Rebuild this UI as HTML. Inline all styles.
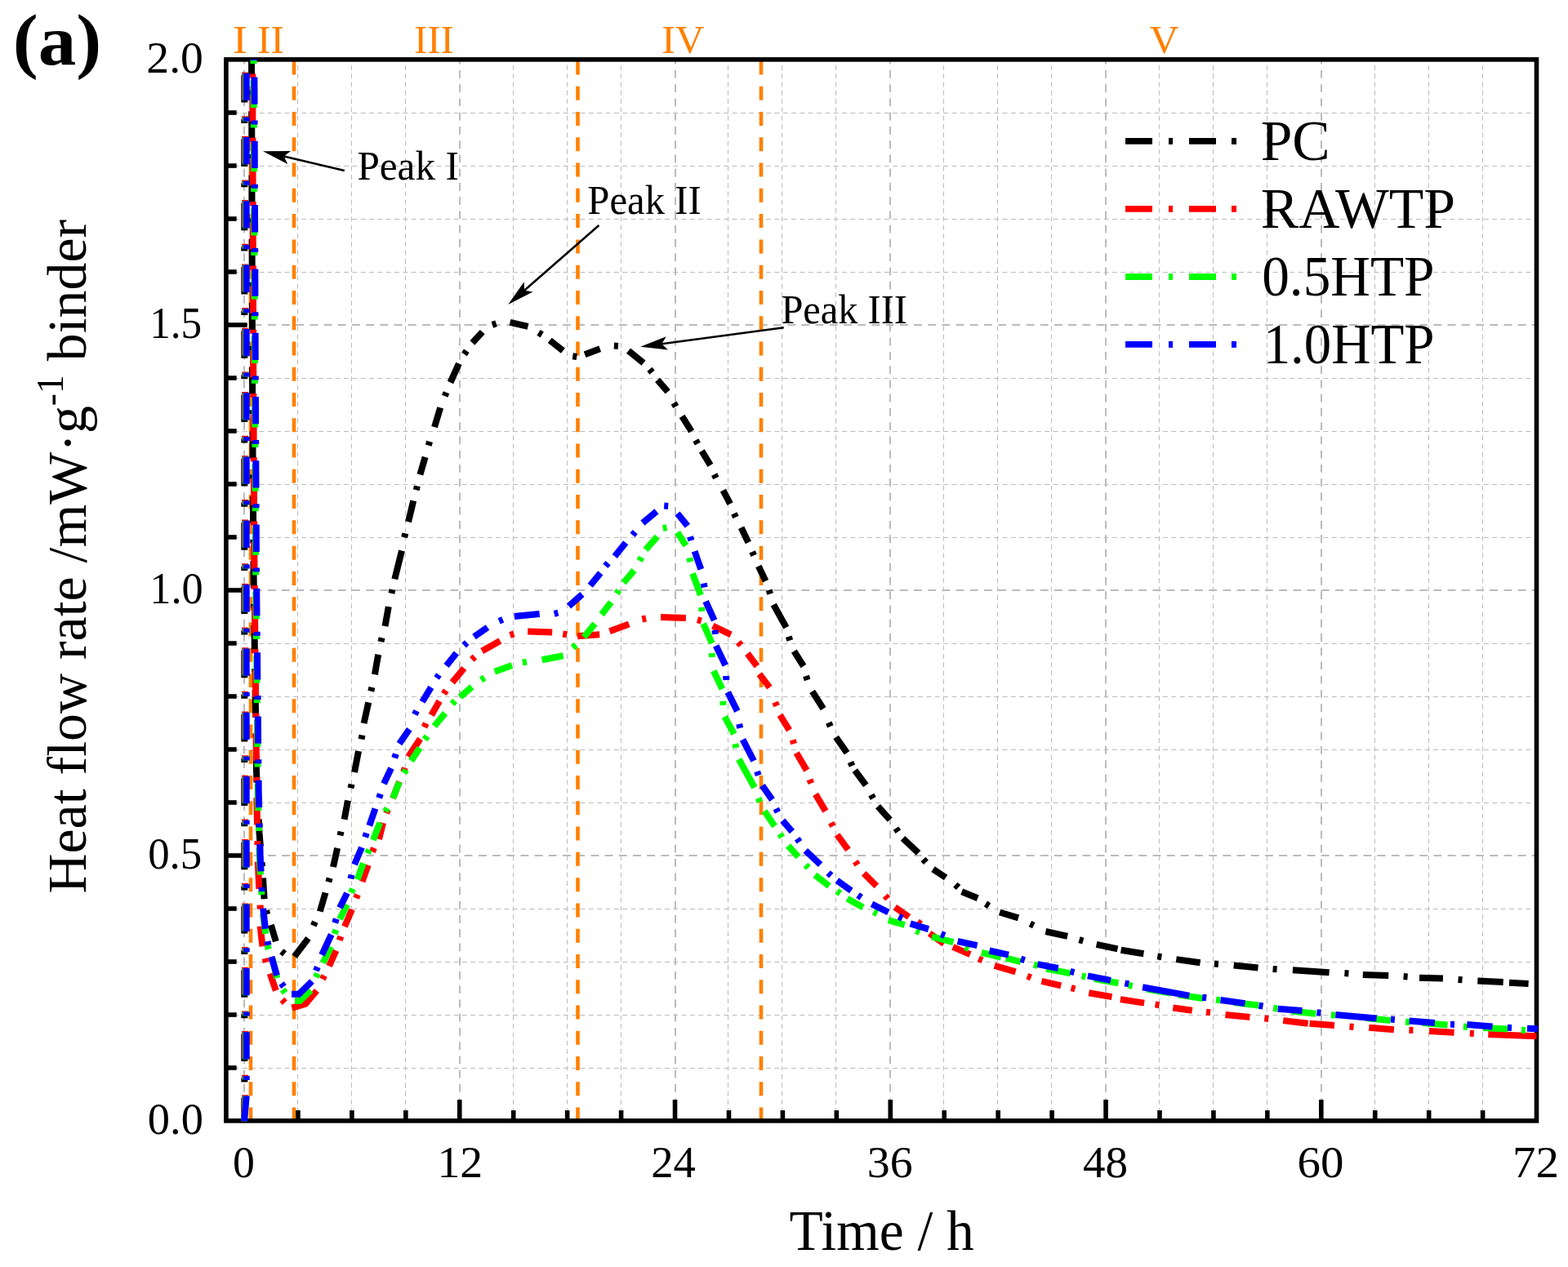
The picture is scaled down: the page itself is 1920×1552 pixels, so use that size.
<!DOCTYPE html><html><head><meta charset="utf-8"><title>Heat flow rate</title>
<style>html,body{margin:0;padding:0;background:#fff;overflow:hidden;}svg{display:block;}text{font-family:'Liberation Serif','Times New Roman',serif;}</style></head><body>
<svg width="1920" height="1552" viewBox="0 0 1920 1552">
<rect width="1920" height="1552" fill="#fff"/>
<defs><clipPath id="pc"><rect x="272.9" y="72.5" width="1612.6" height="1304.0"/></clipPath></defs>
<g id="grid"><line x1="299.00" y1="72" x2="299.00" y2="1370" stroke="#bbbbbb" stroke-width="2" stroke-dasharray="9.9 7.35" stroke-dashoffset="3.3"/><line x1="364.50" y1="80" x2="364.50" y2="1370" stroke="#bbbbbb" stroke-width="1" stroke-dasharray="5.9 4.4"/><line x1="430.50" y1="80" x2="430.50" y2="1370" stroke="#bbbbbb" stroke-width="1" stroke-dasharray="5.9 4.4"/><line x1="496.50" y1="80" x2="496.50" y2="1370" stroke="#bbbbbb" stroke-width="1" stroke-dasharray="5.9 4.4"/><line x1="563.00" y1="72" x2="563.00" y2="1370" stroke="#bbbbbb" stroke-width="2" stroke-dasharray="9.9 7.35" stroke-dashoffset="3.3"/><line x1="628.50" y1="80" x2="628.50" y2="1370" stroke="#bbbbbb" stroke-width="1" stroke-dasharray="5.9 4.4"/><line x1="694.50" y1="80" x2="694.50" y2="1370" stroke="#bbbbbb" stroke-width="1" stroke-dasharray="5.9 4.4"/><line x1="760.50" y1="80" x2="760.50" y2="1370" stroke="#bbbbbb" stroke-width="1" stroke-dasharray="5.9 4.4"/><line x1="827.00" y1="72" x2="827.00" y2="1370" stroke="#bbbbbb" stroke-width="2" stroke-dasharray="9.9 7.35" stroke-dashoffset="3.3"/><line x1="891.50" y1="80" x2="891.50" y2="1370" stroke="#bbbbbb" stroke-width="1" stroke-dasharray="5.9 4.4"/><line x1="957.50" y1="80" x2="957.50" y2="1370" stroke="#bbbbbb" stroke-width="1" stroke-dasharray="5.9 4.4"/><line x1="1023.50" y1="80" x2="1023.50" y2="1370" stroke="#bbbbbb" stroke-width="1" stroke-dasharray="5.9 4.4"/><line x1="1090.00" y1="72" x2="1090.00" y2="1370" stroke="#bbbbbb" stroke-width="2" stroke-dasharray="9.9 7.35" stroke-dashoffset="3.3"/><line x1="1155.50" y1="80" x2="1155.50" y2="1370" stroke="#bbbbbb" stroke-width="1" stroke-dasharray="5.9 4.4"/><line x1="1221.50" y1="80" x2="1221.50" y2="1370" stroke="#bbbbbb" stroke-width="1" stroke-dasharray="5.9 4.4"/><line x1="1287.50" y1="80" x2="1287.50" y2="1370" stroke="#bbbbbb" stroke-width="1" stroke-dasharray="5.9 4.4"/><line x1="1354.00" y1="72" x2="1354.00" y2="1370" stroke="#bbbbbb" stroke-width="2" stroke-dasharray="9.9 7.35" stroke-dashoffset="3.3"/><line x1="1419.50" y1="80" x2="1419.50" y2="1370" stroke="#bbbbbb" stroke-width="1" stroke-dasharray="5.9 4.4"/><line x1="1485.50" y1="80" x2="1485.50" y2="1370" stroke="#bbbbbb" stroke-width="1" stroke-dasharray="5.9 4.4"/><line x1="1551.50" y1="80" x2="1551.50" y2="1370" stroke="#bbbbbb" stroke-width="1" stroke-dasharray="5.9 4.4"/><line x1="1618.00" y1="72" x2="1618.00" y2="1370" stroke="#bbbbbb" stroke-width="2" stroke-dasharray="9.9 7.35" stroke-dashoffset="3.3"/><line x1="1683.50" y1="80" x2="1683.50" y2="1370" stroke="#bbbbbb" stroke-width="1" stroke-dasharray="5.9 4.4"/><line x1="1749.50" y1="80" x2="1749.50" y2="1370" stroke="#bbbbbb" stroke-width="1" stroke-dasharray="5.9 4.4"/><line x1="1815.50" y1="80" x2="1815.50" y2="1370" stroke="#bbbbbb" stroke-width="1" stroke-dasharray="5.9 4.4"/><line x1="286.6" y1="1308.50" x2="1879" y2="1308.50" stroke="#bbbbbb" stroke-width="1" stroke-dasharray="5.9 4.44"/><line x1="286.6" y1="1243.50" x2="1879" y2="1243.50" stroke="#bbbbbb" stroke-width="1" stroke-dasharray="5.9 4.44"/><line x1="286.6" y1="1178.50" x2="1879" y2="1178.50" stroke="#bbbbbb" stroke-width="1" stroke-dasharray="5.9 4.44"/><line x1="286.6" y1="1113.50" x2="1879" y2="1113.50" stroke="#bbbbbb" stroke-width="1" stroke-dasharray="5.9 4.44"/><line x1="276.2" y1="1048.00" x2="1879" y2="1048.00" stroke="#bbbbbb" stroke-width="2" stroke-dasharray="9.9 7.3"/><line x1="286.6" y1="983.50" x2="1879" y2="983.50" stroke="#bbbbbb" stroke-width="1" stroke-dasharray="5.9 4.44"/><line x1="286.6" y1="918.50" x2="1879" y2="918.50" stroke="#bbbbbb" stroke-width="1" stroke-dasharray="5.9 4.44"/><line x1="286.6" y1="853.50" x2="1879" y2="853.50" stroke="#bbbbbb" stroke-width="1" stroke-dasharray="5.9 4.44"/><line x1="286.6" y1="788.50" x2="1879" y2="788.50" stroke="#bbbbbb" stroke-width="1" stroke-dasharray="5.9 4.44"/><line x1="276.2" y1="723.00" x2="1879" y2="723.00" stroke="#bbbbbb" stroke-width="2" stroke-dasharray="9.9 7.3"/><line x1="286.6" y1="658.50" x2="1879" y2="658.50" stroke="#bbbbbb" stroke-width="1" stroke-dasharray="5.9 4.44"/><line x1="286.6" y1="593.50" x2="1879" y2="593.50" stroke="#bbbbbb" stroke-width="1" stroke-dasharray="5.9 4.44"/><line x1="286.6" y1="528.50" x2="1879" y2="528.50" stroke="#bbbbbb" stroke-width="1" stroke-dasharray="5.9 4.44"/><line x1="286.6" y1="463.50" x2="1879" y2="463.50" stroke="#bbbbbb" stroke-width="1" stroke-dasharray="5.9 4.44"/><line x1="276.2" y1="398.00" x2="1879" y2="398.00" stroke="#bbbbbb" stroke-width="2" stroke-dasharray="9.9 7.3"/><line x1="286.6" y1="333.50" x2="1879" y2="333.50" stroke="#bbbbbb" stroke-width="1" stroke-dasharray="5.9 4.44"/><line x1="286.6" y1="268.50" x2="1879" y2="268.50" stroke="#bbbbbb" stroke-width="1" stroke-dasharray="5.9 4.44"/><line x1="286.6" y1="203.50" x2="1879" y2="203.50" stroke="#bbbbbb" stroke-width="1" stroke-dasharray="5.9 4.44"/><line x1="286.6" y1="138.50" x2="1879" y2="138.50" stroke="#bbbbbb" stroke-width="1" stroke-dasharray="5.9 4.44"/></g>
<g id="regions"><line x1="307.0" y1="74.5" x2="307.0" y2="1373" stroke="#ff8000" stroke-width="4.6" stroke-dasharray="17 14.27"/><line x1="360.0" y1="74.5" x2="360.0" y2="1373" stroke="#ff8000" stroke-width="4.6" stroke-dasharray="17 14.27"/><line x1="707.5" y1="74.5" x2="707.5" y2="1373" stroke="#ff8000" stroke-width="4.6" stroke-dasharray="17 14.27"/><line x1="932.0" y1="74.5" x2="932.0" y2="1373" stroke="#ff8000" stroke-width="4.6" stroke-dasharray="17 14.27"/></g>
<g id="frame"><rect x="276.90" y="72.90" width="1604.60" height="1300.00" fill="none" stroke="#000" stroke-width="5.6"/><line x1="299.00" y1="1372.90" x2="299.00" y2="1347.10" stroke="#000" stroke-width="5.6"/><line x1="364.94" y1="1372.90" x2="364.94" y2="1360.10" stroke="#000" stroke-width="5.6"/><line x1="430.88" y1="1372.90" x2="430.88" y2="1360.10" stroke="#000" stroke-width="5.6"/><line x1="496.82" y1="1372.90" x2="496.82" y2="1360.10" stroke="#000" stroke-width="5.6"/><line x1="562.76" y1="1372.90" x2="562.76" y2="1347.10" stroke="#000" stroke-width="5.6"/><line x1="628.70" y1="1372.90" x2="628.70" y2="1360.10" stroke="#000" stroke-width="5.6"/><line x1="694.64" y1="1372.90" x2="694.64" y2="1360.10" stroke="#000" stroke-width="5.6"/><line x1="760.58" y1="1372.90" x2="760.58" y2="1360.10" stroke="#000" stroke-width="5.6"/><line x1="826.52" y1="1372.90" x2="826.52" y2="1347.10" stroke="#000" stroke-width="5.6"/><line x1="892.46" y1="1372.90" x2="892.46" y2="1360.10" stroke="#000" stroke-width="5.6"/><line x1="958.40" y1="1372.90" x2="958.40" y2="1360.10" stroke="#000" stroke-width="5.6"/><line x1="1024.34" y1="1372.90" x2="1024.34" y2="1360.10" stroke="#000" stroke-width="5.6"/><line x1="1090.28" y1="1372.90" x2="1090.28" y2="1347.10" stroke="#000" stroke-width="5.6"/><line x1="1156.22" y1="1372.90" x2="1156.22" y2="1360.10" stroke="#000" stroke-width="5.6"/><line x1="1222.16" y1="1372.90" x2="1222.16" y2="1360.10" stroke="#000" stroke-width="5.6"/><line x1="1288.10" y1="1372.90" x2="1288.10" y2="1360.10" stroke="#000" stroke-width="5.6"/><line x1="1354.04" y1="1372.90" x2="1354.04" y2="1347.10" stroke="#000" stroke-width="5.6"/><line x1="1419.98" y1="1372.90" x2="1419.98" y2="1360.10" stroke="#000" stroke-width="5.6"/><line x1="1485.92" y1="1372.90" x2="1485.92" y2="1360.10" stroke="#000" stroke-width="5.6"/><line x1="1551.86" y1="1372.90" x2="1551.86" y2="1360.10" stroke="#000" stroke-width="5.6"/><line x1="1617.80" y1="1372.90" x2="1617.80" y2="1347.10" stroke="#000" stroke-width="5.6"/><line x1="1683.74" y1="1372.90" x2="1683.74" y2="1360.10" stroke="#000" stroke-width="5.6"/><line x1="1749.68" y1="1372.90" x2="1749.68" y2="1360.10" stroke="#000" stroke-width="5.6"/><line x1="1815.62" y1="1372.90" x2="1815.62" y2="1360.10" stroke="#000" stroke-width="5.6"/><line x1="276.90" y1="1308.00" x2="289.70" y2="1308.00" stroke="#000" stroke-width="5.6"/><line x1="276.90" y1="1243.00" x2="289.70" y2="1243.00" stroke="#000" stroke-width="5.6"/><line x1="276.90" y1="1178.00" x2="289.70" y2="1178.00" stroke="#000" stroke-width="5.6"/><line x1="276.90" y1="1113.00" x2="289.70" y2="1113.00" stroke="#000" stroke-width="5.6"/><line x1="276.90" y1="1048.00" x2="302.70" y2="1048.00" stroke="#000" stroke-width="5.6"/><line x1="276.90" y1="983.00" x2="289.70" y2="983.00" stroke="#000" stroke-width="5.6"/><line x1="276.90" y1="918.00" x2="289.70" y2="918.00" stroke="#000" stroke-width="5.6"/><line x1="276.90" y1="853.00" x2="289.70" y2="853.00" stroke="#000" stroke-width="5.6"/><line x1="276.90" y1="788.00" x2="289.70" y2="788.00" stroke="#000" stroke-width="5.6"/><line x1="276.90" y1="723.00" x2="302.70" y2="723.00" stroke="#000" stroke-width="5.6"/><line x1="276.90" y1="658.00" x2="289.70" y2="658.00" stroke="#000" stroke-width="5.6"/><line x1="276.90" y1="593.00" x2="289.70" y2="593.00" stroke="#000" stroke-width="5.6"/><line x1="276.90" y1="528.00" x2="289.70" y2="528.00" stroke="#000" stroke-width="5.6"/><line x1="276.90" y1="463.00" x2="289.70" y2="463.00" stroke="#000" stroke-width="5.6"/><line x1="276.90" y1="398.00" x2="302.70" y2="398.00" stroke="#000" stroke-width="5.6"/><line x1="276.90" y1="333.00" x2="289.70" y2="333.00" stroke="#000" stroke-width="5.6"/><line x1="276.90" y1="268.00" x2="289.70" y2="268.00" stroke="#000" stroke-width="5.6"/><line x1="276.90" y1="203.00" x2="289.70" y2="203.00" stroke="#000" stroke-width="5.6"/><line x1="276.90" y1="138.00" x2="289.70" y2="138.00" stroke="#000" stroke-width="5.6"/></g>
<g id="curves" clip-path="url(#pc)"><path d="M299.3,1345.1 L299.0,1373.5 M299.3,1320.5 L299.3,1325.5 M299.3,1266.8 L299.3,1300.1 M299.3,1242.2 L299.3,1247.2 M299.3,1188.5 L299.3,1221.8 M299.3,1163.9 L299.3,1168.9 M299.3,1110.2 L299.3,1143.5 M299.3,1085.6 L299.3,1090.6 M299.3,1031.9 L299.3,1065.2 M299.3,1007.3 L299.3,1012.3 M299.3,953.6 L299.3,986.9 M299.3,929.0 L299.3,934.0 M299.3,875.3 L299.3,908.6 M299.3,850.7 L299.3,855.7 M299.3,797.0 L299.3,830.3 M299.3,772.4 L299.3,777.4 M299.3,718.7 L299.3,752.0 M299.3,694.1 L299.3,699.1 M299.3,640.4 L299.3,673.7 M299.3,615.8 L299.3,620.8 M299.3,562.1 L299.3,595.4 M299.3,537.5 L299.3,542.5 M299.3,483.8 L299.3,517.1 M299.3,459.2 L299.3,464.2 M299.3,405.5 L299.3,438.8 M299.3,380.9 L299.3,385.9 M299.3,327.2 L299.3,360.5 M299.3,302.6 L299.3,307.6 M299.3,248.9 L299.3,282.2 M299.3,224.3 L299.3,229.3 M299.3,170.6 L299.3,203.9 M299.3,146.0 L299.3,151.0 M299.3,92.3 L299.3,125.6 M299.3,72.5 L299.3,72.7 M308.0,72.5 L308.1,91.2 M308.1,110.8 L308.1,115.8 M308.2,136.2 L308.3,169.5 M308.3,189.1 L308.3,194.1 M308.4,214.5 L308.5,247.8 M308.5,267.4 L308.5,272.4 M308.6,292.8 L308.7,326.1 M308.7,345.7 L308.7,350.7 M308.8,371.1 L308.9,404.4 M308.9,424.0 L308.9,429.0 M309.0,449.4 L309.0,460.0 L309.1,482.7 M309.3,502.3 L309.3,507.3 M309.4,528.6 L309.6,561.9 M309.8,581.5 L309.8,586.5 M309.9,607.9 L310.1,641.2 M310.3,660.8 L310.3,665.8 M310.4,687.1 L310.5,700.0 L310.8,720.4 M311.1,740.0 L311.1,745.0 M311.4,766.3 L311.9,799.6 M312.2,819.2 L312.3,824.2 M312.6,845.5 L313.1,878.8 M313.3,898.4 L313.4,903.4 M313.7,925.2 L314.0,945.0 L314.6,958.5 M315.5,978.1 L315.8,983.1 M316.7,1003.5 L317.5,1020.0 L318.9,1036.8 M320.5,1056.4 L320.9,1061.4 M322.0,1075.5 L323.6,1101.2 M326.0,1115.2 L327.2,1120.0 M331.8,1133.0 L337.8,1153.2 M344.7,1165.2 L348.5,1168.4 M360.5,1171.7 L377.5,1149.3 M383.8,1133.8 L385.8,1129.2 M391.8,1116.5 L398.5,1093.5 M402.3,1080.4 L403.7,1075.6 M408.0,1062.0 L413.1,1038.8 M416.4,1023.4 L417.6,1018.6 M421.6,1003.7 L426.0,980.5 M429.4,965.4 L430.6,960.6 M434.0,946.0 L439.0,920.0 M442.5,905.5 L443.5,900.5 M445.6,886.0 L451.2,860.4 M454.2,846.7 L455.4,841.9 M458.9,826.3 L463.2,801.8 M466.4,786.1 L467.6,781.3 M471.5,767.0 L475.8,743.1 M479.4,726.9 L480.4,722.1 M483.3,709.4 L492.0,674.5 M495.1,658.2 L496.3,653.4 M500.0,639.2 L506.2,613.4 M509.7,600.2 L510.9,595.4 M514.4,581.4 L520.6,559.8 M524.7,545.7 L526.1,540.9 M532.0,523.1 L539.2,499.4 M544.7,485.3 L546.5,480.7 M551.5,468.5 L561.9,445.4 M568.5,434.0 L571.3,429.8 M578.4,420.0 L590.7,406.6 M602.8,397.9 L607.6,396.3 M624.5,394.8 L646.5,399.9 M659.5,407.4 L663.7,410.0 M673.2,416.8 L689.4,429.6 M701.3,436.2 L706.3,437.0 M716.1,434.2 L734.7,427.3 M751.9,423.6 L756.9,424.0 M769.5,429.6 L788.0,444.7 M795.4,452.3 L798.6,456.1 M805.1,465.4 L817.7,479.9 M825.1,493.6 L827.7,498.0 M835.1,509.9 L846.7,528.3 M851.9,539.2 L854.3,543.6 M859.3,552.4 L869.9,569.8 M874.6,581.1 L876.8,585.5 M885.4,600.7 L894.1,617.2 M898.8,629.0 L901.0,633.6 M907.6,646.2 L916.3,664.5 M921.1,675.8 L923.1,680.4 M928.8,693.5 L937.5,711.8 M941.6,722.7 L943.2,727.5 M947.2,740.6 L962.7,768.6 M965.7,779.8 L967.3,784.6 M972.3,797.6 L983.9,816.0 M987.0,828.1 L988.6,832.9 M994.6,846.9 L1008.1,868.2 M1014.8,885.2 L1016.8,889.8 M1023.6,903.0 L1037.1,922.3 M1041.5,933.5 L1043.5,938.1 M1046.8,943.6 L1060.3,961.9 M1066.8,973.6 L1069.2,978.0 M1075.0,987.8 L1089.7,1004.1 M1097.0,1014.6 L1099.8,1018.8 M1105.5,1026.8 L1124.6,1044.8 M1130.5,1052.5 L1133.9,1056.3 M1142.5,1064.6 L1158.1,1075.0 M1169.8,1083.7 L1173.6,1087.1 M1177.7,1092.3 L1197.2,1100.3 M1206.9,1107.0 L1211.1,1109.6 M1224.1,1117.5 L1247.0,1124.4 M1261.4,1131.5 L1265.8,1133.7 M1280.4,1141.0 L1307.1,1146.9 M1321.5,1151.2 L1326.3,1152.6 M1342.6,1156.8 L1368.5,1162.3 M1372.6,1163.8 L1400.4,1168.2 M1417.3,1171.4 L1422.3,1172.2 M1440.3,1175.1 L1469.6,1179.2 M1486.9,1180.5 L1491.9,1180.9 M1510.7,1182.5 L1540.5,1185.5 M1558.6,1186.9 L1563.6,1187.3 M1582.9,1188.2 L1627.6,1191.2 M1646.4,1192.1 L1651.4,1192.5 M1668.8,1194.0 L1700.2,1195.1 M1718.6,1196.0 L1723.6,1196.4 M1738.0,1197.8 L1766.9,1198.5 M1785.5,1199.9 L1790.5,1200.3 M1809.3,1201.5 L1840.7,1203.1 M1848.0,1203.8 L1871.6,1205.0" fill="none" stroke="#000000" stroke-width="8.0" stroke-linecap="butt" stroke-linejoin="miter"/><path d="M300.1,1341.3 L300.1,1343.0 L299.0,1373.5 M300.1,1316.7 L300.1,1321.7 M300.1,1263.0 L300.1,1296.3 M300.1,1238.4 L300.1,1243.4 M300.1,1184.7 L300.1,1218.0 M300.1,1160.1 L300.1,1165.1 M300.1,1106.4 L300.1,1139.7 M300.1,1081.8 L300.1,1086.8 M300.1,1028.1 L300.1,1061.4 M300.1,1003.5 L300.1,1008.5 M300.1,949.8 L300.1,983.1 M300.1,925.2 L300.1,930.2 M300.1,871.5 L300.1,904.8 M300.1,846.9 L300.1,851.9 M300.1,793.2 L300.1,826.5 M300.1,768.6 L300.1,773.6 M300.1,714.9 L300.1,748.2 M300.1,690.3 L300.1,695.3 M300.1,636.6 L300.1,669.9 M300.1,612.0 L300.1,617.0 M300.1,558.3 L300.1,591.6 M300.1,533.7 L300.1,538.7 M300.1,480.0 L300.1,513.3 M300.1,455.4 L300.1,460.4 M300.1,401.7 L300.1,435.0 M300.1,377.1 L300.1,382.1 M300.1,323.4 L300.1,356.7 M300.1,298.8 L300.1,303.8 M300.1,245.1 L300.1,278.4 M300.1,220.5 L300.1,225.5 M300.1,166.8 L300.1,200.1 M300.1,142.2 L300.1,147.2 M300.1,88.5 L300.1,121.8 M309.3,90.5 L309.3,95.5 M309.3,115.9 L309.4,149.2 M309.5,168.8 L309.5,173.8 M309.5,194.2 L309.6,227.5 M309.7,247.1 L309.7,252.1 M309.7,272.5 L309.8,305.8 M309.9,325.4 L309.9,330.4 M309.9,350.8 L310.0,384.1 M310.1,403.7 L310.1,408.7 M310.1,429.1 L310.2,460.0 L310.2,462.4 M310.3,482.0 L310.3,487.0 M310.5,507.4 L310.6,540.7 M310.7,560.3 L310.8,565.3 M310.9,585.7 L311.1,619.0 M311.2,638.6 L311.2,643.6 M311.3,664.0 L311.5,697.3 M311.7,716.9 L311.7,721.9 M311.9,742.3 L312.3,775.6 M312.5,795.2 L312.5,800.2 M312.8,820.6 L313.1,853.9 M313.3,873.5 L313.4,878.5 M313.6,898.9 L313.9,932.2 M314.1,951.8 L314.2,956.8 M314.4,977.2 L315.0,1010.5 M315.3,1030.1 L315.4,1035.1 M315.8,1055.5 L317.3,1088.8 M318.6,1108.6 L318.8,1113.6 M318.7,1134.6 L321.4,1159.2 M324.5,1174.0 L325.9,1178.8 M330.7,1192.6 L337.8,1213.4 M345.4,1224.6 L348.8,1228.2 M357.4,1234.7 L374.0,1229.7 L387.9,1213.5 M394.9,1199.4 L397.1,1195.0 M403.0,1183.3 L411.5,1164.4 M415.7,1151.7 L417.3,1146.9 M422.0,1135.0 L431.0,1114.0 M436.1,1100.3 L437.9,1095.7 M443.5,1080.0 L450.7,1059.6 M456.0,1043.3 L458.0,1038.7 M464.0,1028.0 L469.0,1008.0 M473.1,996.3 L474.9,991.7 M481.0,978.0 L489.0,957.5 M494.2,945.4 L495.8,940.6 M500.0,927.0 L514.5,905.0 M519.5,890.7 L521.7,886.1 M528.2,876.0 L538.1,858.8 M543.4,849.9 L546.2,845.7 M553.8,835.9 L568.3,818.5 M577.8,807.9 L581.4,804.5 M590.2,797.5 L612.4,785.0 M624.5,778.0 L629.3,776.4 M646.2,773.4 L676.2,774.4 M689.2,776.5 L694.2,777.3 M707.1,779.2 L734.2,777.3 M746.5,773.2 L770.3,764.5 M786.3,758.5 L791.1,757.5 M809.0,756.1 L839.9,757.0 M854.0,759.2 L858.8,760.6 M872.8,766.7 L895.0,777.3 M904.1,786.6 L907.3,790.4 M915.3,800.5 L926.9,816.0 M929.8,825.7 L942.4,842.1 M949.2,860.1 L951.0,864.7 M955.0,875.9 L966.5,894.3 M970.7,906.4 L972.1,911.2 M975.2,922.3 L987.8,943.6 M991.5,954.9 L993.3,959.5 M998.6,972.9 L1010.9,993.6 M1017.7,1007.7 L1019.9,1012.1 M1025.0,1022.5 L1038.5,1040.9 M1047.3,1055.2 L1050.1,1059.4 M1057.8,1069.9 L1073.3,1085.3 M1083.9,1097.1 L1087.1,1100.9 M1095.8,1111.2 L1113.0,1123.2 M1123.5,1128.8 L1127.5,1132.0 M1138.2,1143.3 L1155.9,1155.9 M1166.8,1159.9 L1188.0,1169.1 M1198.3,1174.4 L1202.9,1176.4 M1217.8,1182.8 L1243.6,1190.3 M1257.9,1195.6 L1262.5,1197.4 M1275.4,1201.9 L1299.2,1207.3 M1311.6,1210.2 L1316.4,1211.4 M1333.3,1216.2 L1361.5,1221.1 M1371.9,1224.1 L1401.1,1228.6 M1414.5,1230.4 L1419.5,1231.2 M1436.3,1234.5 L1459.8,1237.8 M1477.0,1239.7 L1482.0,1240.3 M1500.5,1242.9 L1530.4,1245.9 M1548.3,1247.4 L1553.3,1248.0 M1571.2,1250.1 L1601.7,1253.7 M1603.5,1253.7 L1634.0,1256.1 M1652.5,1257.6 L1657.5,1258.0 M1676.3,1258.8 L1706.9,1261.3 M1725.4,1261.8 L1730.4,1262.0 M1750.0,1263.1 L1780.6,1264.8 M1799.8,1265.8 L1804.8,1266.0 M1822.3,1267.1 L1881.5,1269.2" fill="none" stroke="#ff0000" stroke-width="8.0" stroke-linecap="butt" stroke-linejoin="miter"/><path d="M300.9,1342.5 L300.9,1343.0 L299.0,1373.5 M300.9,1317.9 L300.9,1322.9 M300.9,1264.2 L300.9,1297.5 M300.9,1239.6 L300.9,1244.6 M300.9,1185.9 L300.9,1219.2 M300.9,1161.3 L300.9,1166.3 M300.9,1107.6 L300.9,1140.9 M300.9,1083.0 L300.9,1088.0 M300.9,1029.3 L300.9,1062.6 M300.9,1004.7 L300.9,1009.7 M300.9,951.0 L300.9,984.3 M300.9,926.4 L300.9,931.4 M300.9,872.7 L300.9,906.0 M300.9,848.1 L300.9,853.1 M300.9,794.4 L300.9,827.7 M300.9,769.8 L300.9,774.8 M300.9,716.1 L300.9,749.4 M300.9,691.5 L300.9,696.5 M300.9,637.8 L300.9,671.1 M300.9,613.2 L300.9,618.2 M300.9,559.5 L300.9,592.8 M300.9,534.9 L300.9,539.9 M300.9,481.2 L300.9,514.5 M300.9,456.6 L300.9,461.6 M300.9,402.9 L300.9,436.2 M300.9,378.3 L300.9,383.3 M300.9,324.6 L300.9,357.9 M300.9,300.0 L300.9,305.0 M300.9,246.3 L300.9,279.6 M300.9,221.7 L300.9,226.7 M300.9,168.0 L300.9,201.3 M300.9,143.4 L300.9,148.4 M300.9,89.7 L300.9,123.0 M310.5,73.2 L310.6,78.2 M310.6,98.6 L310.8,131.9 M310.8,151.5 L310.9,156.5 M310.9,176.9 L311.1,210.2 M311.1,229.8 L311.2,234.8 M311.2,255.2 L311.4,288.5 M311.4,308.1 L311.4,313.1 M311.5,333.5 L311.7,366.8 M311.7,386.4 L311.7,391.4 M311.8,411.8 L311.9,445.1 M312.0,464.7 L312.0,469.7 M312.2,490.1 L312.3,523.4 M312.4,543.0 L312.4,548.0 M312.5,568.4 L312.7,601.7 M312.8,621.3 L312.8,626.3 M312.9,646.7 L313.1,680.0 M313.2,699.6 L313.2,700.0 L313.2,704.6 M313.4,725.0 L313.8,758.3 M314.0,777.9 L314.0,782.9 M314.2,803.3 L314.5,836.6 M314.7,856.2 L314.8,861.2 M314.9,881.6 L315.3,914.9 M315.5,934.5 L315.5,939.5 M315.7,959.9 L315.8,970.0 L316.4,993.2 M316.9,1012.8 L317.0,1017.8 M317.5,1038.2 L317.8,1050.0 L319.0,1071.5 M320.1,1091.1 L320.4,1096.1 M322.0,1119.0 L325.3,1143.9 M327.5,1158.1 L328.9,1162.9 M333.5,1174.0 L339.2,1198.1 M346.2,1212.1 L349.2,1216.1 M361.0,1226.0 L367.0,1226.0 L380.6,1213.1 M386.9,1197.2 L388.9,1192.6 M395.3,1179.5 L405.3,1159.8 M409.7,1143.9 L411.3,1139.1 M416.0,1126.0 L425.0,1108.0 M430.0,1093.3 L432.0,1088.7 M437.6,1077.4 L444.8,1057.3 M450.0,1045.3 L452.0,1040.7 M456.9,1029.0 L465.2,1007.8 M471.8,994.2 L474.2,989.8 M481.1,977.9 L488.9,958.0 M494.8,947.2 L497.2,942.8 M503.5,932.0 L514.0,916.1 M520.2,906.0 L523.0,901.8 M531.8,889.5 L545.1,873.6 M553.7,862.2 L557.1,858.6 M563.4,853.8 L577.9,841.4 M589.1,832.8 L593.3,830.0 M605.7,822.7 L626.9,815.0 M639.9,811.6 L644.9,810.6 M663.6,808.2 L689.7,803.3 M701.4,793.4 L705.2,790.0 M715.0,780.5 L728.5,764.0 M736.6,752.7 L748.3,737.6 M755.1,727.2 L757.7,723.0 M763.5,713.8 L776.5,698.7 M783.1,687.0 L785.5,682.6 M790.5,673.4 L804.8,657.4 M811.7,647.1 L816.5,646.1 M829.5,652.2 L839.9,668.4 M844.2,683.4 L845.4,688.2 M848.0,702.5 L858.0,729.0 M859.1,743.9 L859.5,748.9 M861.2,763.8 L871.8,788.0 M871.7,800.0 L871.9,805.0 M873.8,821.8 L884.4,844.0 M885.2,858.9 L885.6,863.9 M887.3,877.8 L898.9,899.1 M900.3,911.1 L901.3,916.1 M904.7,930.0 L924.0,964.8 M928.5,977.7 L930.5,982.3 M936.0,993.5 L948.6,1011.9 M954.9,1021.4 L957.7,1025.6 M965.0,1036.0 L977.6,1049.6 M986.5,1059.4 L989.9,1063.0 M997.9,1071.8 L1015.3,1085.3 M1024.9,1091.6 L1028.9,1094.4 M1037.5,1100.8 L1056.8,1111.4 M1069.6,1117.0 L1074.0,1119.2 M1087.8,1127.2 L1107.8,1133.0 M1121.6,1140.0 L1126.2,1142.0 M1141.0,1147.3 L1167.4,1154.2 M1181.7,1160.1 L1186.3,1161.9 M1201.8,1166.8 L1225.8,1172.5 M1231.6,1173.6 L1249.9,1178.2 M1265.8,1181.6 L1270.6,1182.8 M1281.0,1186.5 L1311.0,1192.4 M1324.5,1195.3 L1329.3,1196.5 M1340.0,1199.0 L1369.5,1204.3 M1381.9,1206.8 L1386.7,1207.8 M1404.0,1211.5 L1434.0,1216.5 M1443.0,1218.5 L1473.0,1223.0 M1489.0,1224.7 L1494.0,1225.3 M1511.0,1228.0 L1541.2,1231.5 M1559.1,1234.7 L1564.1,1235.5 M1581.0,1238.5 L1611.3,1241.7 M1629.8,1243.3 L1634.8,1243.7 M1672.5,1247.0 L1702.5,1250.0 M1721.0,1251.7 L1726.0,1252.1 M1742.0,1253.0 L1772.5,1255.6 M1791.9,1257.6 L1796.9,1258.0 M1816.0,1259.0 L1846.3,1260.6 M1862.8,1261.7 L1867.8,1262.1" fill="none" stroke="#00ff00" stroke-width="8.0" stroke-linecap="butt" stroke-linejoin="miter"/><path d="M301.7,1342.5 L301.7,1343.0 L299.0,1373.5 M301.7,1317.9 L301.7,1322.9 M301.7,1264.2 L301.7,1297.5 M301.7,1239.6 L301.7,1244.6 M301.7,1185.9 L301.7,1219.2 M301.7,1161.3 L301.7,1166.3 M301.7,1107.6 L301.7,1140.9 M301.7,1083.0 L301.7,1088.0 M301.7,1029.3 L301.7,1062.6 M301.7,1004.7 L301.7,1009.7 M301.7,951.0 L301.7,984.3 M301.7,926.4 L301.7,931.4 M301.7,872.7 L301.7,906.0 M301.7,848.1 L301.7,853.1 M301.7,794.4 L301.7,827.7 M301.7,769.8 L301.7,774.8 M301.7,716.1 L301.7,749.4 M301.7,691.5 L301.7,696.5 M301.7,637.8 L301.7,671.1 M301.7,613.2 L301.7,618.2 M301.7,559.5 L301.7,592.8 M301.7,534.9 L301.7,539.9 M301.7,481.2 L301.7,514.5 M301.7,456.6 L301.7,461.6 M301.7,402.9 L301.7,436.2 M301.7,378.3 L301.7,383.3 M301.7,324.6 L301.7,357.9 M301.7,300.0 L301.7,305.0 M301.7,246.3 L301.7,279.6 M301.7,221.7 L301.7,226.7 M301.7,168.0 L301.7,201.3 M301.7,143.4 L301.7,148.4 M301.7,89.7 L301.7,123.0 M311.3,72.5 L311.4,74.1 M311.4,94.5 L311.6,127.8 M311.6,147.4 L311.6,152.4 M311.7,172.8 L311.8,206.1 M311.9,225.7 L311.9,230.7 M312.0,251.1 L312.1,284.4 M312.2,304.0 L312.2,309.0 M312.3,329.4 L312.4,362.7 M312.5,382.3 L312.5,387.3 M312.6,407.7 L312.7,441.0 M312.8,460.6 L312.8,465.6 M312.9,486.0 L313.1,519.3 M313.2,538.9 L313.2,543.9 M313.3,564.3 L313.5,597.6 M313.6,617.2 L313.6,622.2 M313.7,642.6 L313.9,675.9 M314.0,695.5 L314.0,700.0 L314.0,700.5 M314.2,720.9 L314.5,754.2 M314.7,773.8 L314.8,778.8 M315.0,799.2 L315.3,832.5 M315.5,852.1 L315.6,857.1 M315.8,877.5 L316.1,910.8 M316.3,930.4 L316.4,935.4 M316.6,955.8 L316.7,970.0 L317.2,989.1 M317.7,1008.7 L317.8,1013.7 M318.3,1034.1 L318.7,1050.0 L319.6,1067.4 M320.5,1087.0 L320.8,1092.0 M322.2,1112.7 L324.9,1137.7 M327.5,1153.0 L328.5,1157.8 M332.4,1171.8 L339.0,1194.8 M344.5,1204.6 L347.5,1208.6 M357.0,1217.7 L366.0,1217.7 L382.0,1202.0 M387.0,1189.1 L388.8,1184.5 M394.1,1169.8 L405.7,1144.7 M410.2,1130.4 L411.8,1125.6 M416.0,1112.0 L425.0,1094.0 M429.4,1076.4 L430.6,1071.6 M434.0,1059.0 L443.0,1038.0 M447.2,1025.4 L448.8,1020.6 M452.3,1011.4 L459.5,990.5 M464.2,977.4 L465.8,972.6 M470.0,960.0 L479.0,941.0 M483.2,928.4 L484.8,923.6 M489.0,911.0 L501.3,893.2 M507.9,875.3 L510.1,870.7 M517.1,859.8 L527.8,841.9 M534.6,830.5 L537.4,826.5 M546.5,815.6 L558.9,800.1 M568.1,790.5 L571.7,787.1 M580.5,780.0 L597.0,768.5 M611.1,760.9 L615.7,758.9 M629.8,755.0 L660.7,752.1 M678.6,751.8 L683.4,750.6 M696.5,742.5 L712.9,728.0 M722.7,717.3 L735.3,701.9 M741.4,693.4 L744.6,689.6 M752.7,681.4 L766.2,664.8 M774.5,655.4 L777.7,651.6 M786.9,640.6 L804.0,626.4 M813.2,619.6 L818.2,620.0 M829.5,628.9 L841.9,644.2 M845.0,657.3 L846.4,662.1 M850.6,675.2 L858.3,697.4 M861.8,714.5 L862.6,719.5 M864.1,736.7 L874.7,759.9 M875.5,771.9 L875.9,776.9 M876.7,790.9 L888.3,815.0 M889.0,828.0 L889.4,833.0 M891.2,847.9 L902.8,871.1 M905.2,886.9 L906.2,891.9 M909.5,905.9 L923.0,932.0 M927.1,945.0 L928.7,949.8 M933.4,962.3 L945.5,979.6 M950.2,990.5 L952.4,994.9 M958.3,1005.1 L969.9,1018.6 M976.2,1027.3 L979.0,1031.3 M986.3,1041.8 L1004.6,1059.2 M1014.1,1069.1 L1017.7,1072.5 M1024.9,1078.5 L1042.3,1091.1 M1050.5,1096.5 L1054.7,1099.3 M1067.5,1107.4 L1087.8,1117.5 M1100.5,1122.7 L1104.9,1124.9 M1114.7,1131.3 L1137.0,1138.1 M1152.3,1144.0 L1156.9,1146.0 M1172.6,1153.0 L1196.6,1158.2 M1211.5,1164.5 L1235.0,1169.6 M1250.0,1174.6 L1254.8,1176.2 M1270.5,1181.1 L1295.7,1186.0 M1310.6,1189.9 L1315.4,1191.1 M1331.9,1195.4 L1360.0,1200.9 M1377.4,1204.3 L1382.2,1205.3 M1399.1,1209.3 L1456.2,1219.6 M1472.2,1221.7 L1477.2,1222.3 M1494.5,1225.0 L1524.5,1229.1 M1541.5,1231.7 L1546.5,1232.5 M1564.6,1235.7 L1594.5,1238.1 M1612.4,1240.2 L1617.4,1240.8 M1635.3,1242.9 L1685.6,1247.5 M1702.9,1248.6 L1707.9,1249.0 M1725.6,1250.6 L1756.9,1253.1 M1776.0,1254.7 L1781.0,1254.9 M1796.3,1255.0 L1827.5,1257.5 M1846.0,1258.7 L1851.0,1258.9 M1870.0,1259.8 L1883.0,1260.3" fill="none" stroke="#0000ff" stroke-width="8.0" stroke-linecap="butt" stroke-linejoin="miter"/></g>
<g id="legend"><line x1="1378" y1="172.9" x2="1411" y2="172.9" stroke="#000000" stroke-width="7.9"/><line x1="1431" y1="172.9" x2="1436" y2="172.9" stroke="#000000" stroke-width="7.9"/><line x1="1456" y1="172.9" x2="1489" y2="172.9" stroke="#000000" stroke-width="7.9"/><line x1="1508" y1="172.9" x2="1514" y2="172.9" stroke="#000000" stroke-width="7.9"/><line x1="1378" y1="255.9" x2="1411" y2="255.9" stroke="#ff0000" stroke-width="7.9"/><line x1="1431" y1="255.9" x2="1436" y2="255.9" stroke="#ff0000" stroke-width="7.9"/><line x1="1456" y1="255.9" x2="1489" y2="255.9" stroke="#ff0000" stroke-width="7.9"/><line x1="1508" y1="255.9" x2="1514" y2="255.9" stroke="#ff0000" stroke-width="7.9"/><line x1="1378" y1="339.0" x2="1411" y2="339.0" stroke="#00ff00" stroke-width="7.9"/><line x1="1431" y1="339.0" x2="1436" y2="339.0" stroke="#00ff00" stroke-width="7.9"/><line x1="1456" y1="339.0" x2="1489" y2="339.0" stroke="#00ff00" stroke-width="7.9"/><line x1="1508" y1="339.0" x2="1514" y2="339.0" stroke="#00ff00" stroke-width="7.9"/><line x1="1378" y1="421.9" x2="1411" y2="421.9" stroke="#0000ff" stroke-width="7.9"/><line x1="1431" y1="421.9" x2="1436" y2="421.9" stroke="#0000ff" stroke-width="7.9"/><line x1="1456" y1="421.9" x2="1489" y2="421.9" stroke="#0000ff" stroke-width="7.9"/><line x1="1508" y1="421.9" x2="1514" y2="421.9" stroke="#0000ff" stroke-width="7.9"/></g>
<g transform="matrix(1.0117,0,0,1,179.37,88.50)"><text font-size="55">2.0</text></g>
<g transform="matrix(0.9296,0,0,1,183.18,413.50)"><text font-size="55">1.5</text></g>
<g transform="matrix(0.9532,0,0,1,183.27,738.50)"><text font-size="55">1.0</text></g>
<g transform="matrix(0.9597,0,0,1,181.18,1063.50)"><text font-size="55">0.5</text></g>
<g transform="matrix(0.9900,0,0,1,180.82,1388.50)"><text font-size="55">0.0</text></g>
<g transform="matrix(0.9787,0,0,1,285.04,1442.40)"><text font-size="55">0</text></g>
<g transform="matrix(1.0138,0,0,1,535.38,1442.40)"><text font-size="55">12</text></g>
<g transform="matrix(0.9932,0,0,1,797.22,1442.40)"><text font-size="55">24</text></g>
<g transform="matrix(1.0158,0,0,1,1061.71,1442.40)"><text font-size="55">36</text></g>
<g transform="matrix(1.0019,0,0,1,1325.90,1442.40)"><text font-size="55">48</text></g>
<g transform="matrix(1.0345,0,0,1,1588.47,1442.40)"><text font-size="55">60</text></g>
<g transform="matrix(1.0363,0,0,1,1851.91,1442.40)"><text font-size="55">72</text></g>
<g transform="matrix(1.0005,0,0,0.9602,15.70,78.74)"><text font-size="93" font-weight="bold">(a)</text></g>
<g transform="matrix(0.9851,0,0,1.0052,966.57,1530.55)"><text font-size="68.5">Time / h</text></g>
<g transform="matrix(1.0147,0,0,1.0326,1543.72,196.43)"><text font-size="68.5">PC</text></g>
<g transform="matrix(1.0172,0,0,1.0227,1543.72,279.18)"><text font-size="68.5">RAWTP</text></g>
<g transform="matrix(0.9836,0,0,1.0140,1545.14,361.89)"><text font-size="68.5">0.5HTP</text></g>
<g transform="matrix(0.9765,0,0,1.0172,1546.64,444.98)"><text font-size="68.5">1.0HTP</text></g>
<g transform="matrix(1.0980,0,0,1.0079,284.98,65.00)"><text fill="#ff8000" font-size="48.5">I</text></g>
<g transform="matrix(1.0157,0,0,1.0079,315.12,65.00)"><text fill="#ff8000" font-size="48.5">II</text></g>
<g transform="matrix(1.0056,0,0,1.0079,506.99,65.00)"><text fill="#ff8000" font-size="48.5">III</text></g>
<g transform="matrix(1.0256,0,0,1.0154,810.21,65.24)"><text fill="#ff8000" font-size="48.5">IV</text></g>
<g transform="matrix(1.0324,0,0,1.0215,1407.38,65.23)"><text fill="#ff8000" font-size="48.5">V</text></g>
<g transform="matrix(1.0155,0,0,1.0294,437.38,220.39)"><text font-size="48.5">Peak I</text></g>
<g transform="matrix(1.0052,0,0,1.0500,719.29,261.78)"><text font-size="48.5">Peak II</text></g>
<g transform="matrix(0.9984,0,0,1.0382,956.40,395.78)"><text font-size="48.5">Peak III</text></g>
<g transform="matrix(0,-0.9910,1,0,104.90,1094.58)"><text font-size="68.5">Heat flow rate /mW·g<tspan font-size="46" dy="-27.8">-1</tspan><tspan dy="27.8"> binder</tspan></text></g>
<line x1="421.8" y1="208.9" x2="347.7" y2="191.4" stroke="#000" stroke-width="2.6"/><path d="M322.0,185.3 L356.0,184.9 L347.7,191.4 L352.2,200.9 Z" fill="#000"/>
<line x1="733.4" y1="276.1" x2="642.1" y2="355.7" stroke="#000" stroke-width="2.6"/><path d="M622.2,373.1 L641.7,345.2 L642.1,355.7 L652.5,357.6 Z" fill="#000"/>
<line x1="959.8" y1="401.3" x2="810.3" y2="421.3" stroke="#000" stroke-width="2.6"/><path d="M784.1,424.8 L815.7,412.3 L810.3,421.3 L817.9,428.6 Z" fill="#000"/>
</svg></body></html>
